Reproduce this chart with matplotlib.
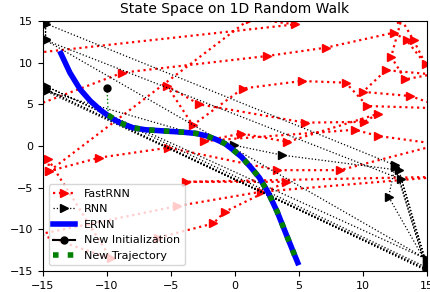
import matplotlib
matplotlib.use("Agg")
import matplotlib.pyplot as plt

# FastRNN trajectory (some points lie outside the visible window)
fast_x = [-14.5, 1.2, 4.7, -19.0, -20.0, -8.8, 2.5, 7.1, 12.4, 13.4, 14.9, 13.95, 13.0,
          12.2, 13.3, 15.4, 11.8, 10.0, 13.7, 16.5, 10.35, 8.65, 5.2, 0.6, -3.3,
          -5.3, -2.8, 5.5, 10.1, 11.15, 4.1, 0.5, -2.4, 9.35, 11.2, 16.0, 8.2,
          3.3, -5.2, -10.6, -14.5, -14.6, -9.7, -15.3, -4.5, 2.0, 16.0, -3.8,
          4.0, -0.8, -1.7, -6.0]
fast_y = [-3.0, 15.3, 14.6, 10.6, 2.3, 8.8, 10.8, 11.8, 13.6, 12.7, 9.8, 12.7, 15.2,
          10.7, 8.0, 8.6, 9.1, 6.5, 6.0, 4.5, 4.8, 7.6, 7.8, 6.9, 2.5,
          7.2, 5.0, 2.8, 2.9, 3.85, 0.5, 1.5, 0.6, 1.95, 1.2, 0.2, -2.9,
          -2.9, -0.2, -1.4, -3.0, -1.6, -13.5, -10.6, -7.2, -5.5, -3.7, -4.3,
          -4.3, -7.9, -9.3, -11.0]

# RNN trajectory
rnn_x = [-14.8, -14.8, -14.8, 12.5, 15.0, -14.8, -0.1, 3.7, 12.8, 15.0, -14.8,
         15.0, -14.8, 13.0, 15.0, 12.0, 12.5, 15.0, -14.8, 15.0]
rnn_y = [15.0, 12.9, 14.7, -2.3, -14.9, 6.6, 0.1, -1.1, -2.9, -14.6, 7.2,
         -13.6, 12.7, -4.0, -14.2, -6.1, -2.5, -15.0, 6.8, -14.8]

# ERNN trajectory
ernn_x = [-13.6, -12.9, -12.1, -11.3, -10.5, -9.7, -9.0, -8.0, -7.0, -6.0, -5.0,
          -4.0, -3.0, -2.2, -1.5, -0.8, -0.2, 0.5, 1.2, 1.9, 2.6, 3.3, 4.0, 4.5, 4.9]
ernn_y = [11.1, 8.8, 6.8, 5.4, 4.3, 3.4, 2.8, 2.2, 1.95, 1.85, 1.75,
          1.65, 1.5, 1.2, 0.8, 0.3, -0.4, -1.3, -2.5, -3.8, -5.6, -7.9, -10.6, -12.5, -14.0]

# new initialization and the trajectory that follows from it
init_x = [-10.0]
init_y = [7.0]
jump_x = [-10.0, -9.9]
jump_y = [7.0, 3.7]
traj_x = [-9.9, -9.0, -8.0, -7.0, -6.0, -5.0, -4.0, -3.0, -2.2, -1.5, -0.8,
          -0.2, 0.5, 1.2, 1.9, 2.6, 3.3, 4.0, 4.5, 4.7]
traj_y = [3.7, 2.8, 2.2, 1.95, 1.85, 1.75, 1.65, 1.5, 1.2, 0.8, 0.3,
          -0.4, -1.3, -2.5, -3.8, -5.6, -7.9, -10.6, -12.5, -13.3]

fig = plt.figure(figsize=(4.3, 2.92), dpi=100)
ax = fig.add_axes([0.100, 0.072, 0.893, 0.856])

ax.plot(fast_x, fast_y, color='red', linestyle=':', linewidth=1.6,
        marker='>', markersize=6, label='FastRNN')
ax.plot(rnn_x, rnn_y, color='black', linestyle=':', linewidth=0.9,
        marker='>', markersize=6, label='RNN')
ax.plot(ernn_x, ernn_y, color='blue', linewidth=4, label='ERNN')
ax.plot(jump_x, jump_y, color='green', linestyle=':', linewidth=1)
ax.plot(init_x, init_y, color='black', marker='o', markersize=5,
        label='New Initialization')
ax.plot(traj_x, traj_y, color='green', linestyle=':', linewidth=4,
        label='New Trajectory')

ax.set_xlim(-15, 15)
ax.set_ylim(-15, 15)
ax.set_xticks([-15, -10, -5, 0, 5, 10, 15])
ax.set_yticks([-15, -10, -5, 0, 5, 10, 15])
ax.tick_params(labelsize=8)
ax.set_title('State Space on 1D Random Walk', fontsize=10)
ax.legend(loc='lower left', fontsize=8)

fig.savefig('out.png', dpi=100)
